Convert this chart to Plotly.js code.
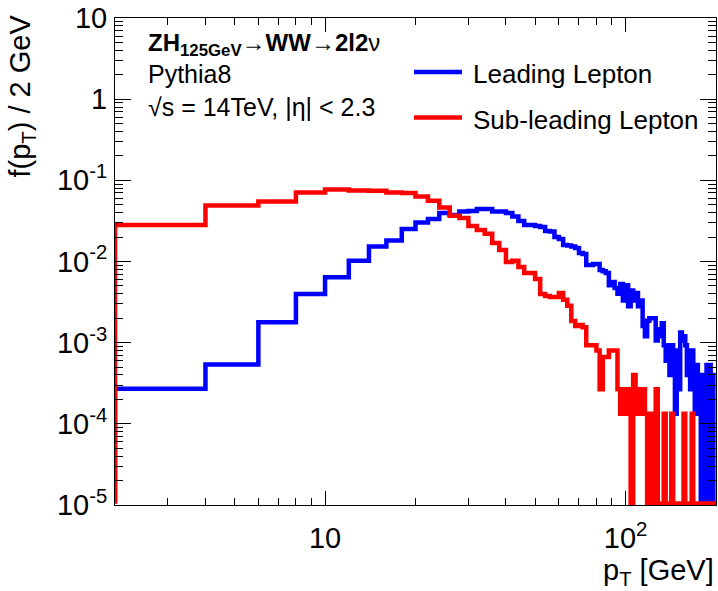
<!DOCTYPE html>
<html>
<head>
<meta charset="utf-8">
<script src="https://cdn.plot.ly/plotly-3.0.1.min.js"></script>
<style>html,body{margin:0;padding:0;background:#fff;}#chart{width:718px;height:591px;}</style>
</head>
<body>
<div id="chart"></div>
<script>
// 2 GeV bins, first visible bin starts at 2 GeV
const xMin = 2;
const binWidth = 2;

// Leading lepton f(pT) per 2 GeV bin ([2,4], [4,6], ... [198,200])
const leading = [
  0.00027,0.00054,0.00179,0.00399,0.0064,0.0102,0.0153,0.0182,0.0252,0.0303,
  0.0334,0.0396,0.0374,0.0413,0.0419,0.0444,0.0444,0.0413,0.0413,0.0396,
  0.0358,0.0316,0.0282,0.0282,0.0274,0.0266,0.0238,0.0235,0.0200,0.0189,
  0.0160,0.0158,0.0153,0.0147,0.0127,0.0124,0.00906,0.00906,0.0093,0.0093,
  0.00785,0.0076,0.0072,0.0051,0.0056,0.0047,0.0040,0.0053,0.0033,0.0051,
  0.0028,0.0044,0.0033,0.0041,0.0028,0.0033,0.0016,0.0012,0.00186,0.0020,
  0.0020,0.0020,0.00106,0.0012,0.00146,0.00173,0.00093,0.0006,0.00093,0.0004,
  0.00093,0.0008,0.000133,0.0008,0.000266,0.00133,0.00106,0.0012,0.00093,0.0004,
  0.0008,0.000266,0.0008,0.0004,0.000133,0.00053,0.000133,0.0004,0,0.000133,
  0.0004,0,0.00053,0.000266,0.00053,0,0.0004,0,0
];

// Sub-leading lepton f(pT) per 2 GeV bin
const subleading = [
  0.0282,0.0489,0.0547,0.0706,0.0773,0.0752,0.0746,0.0710,0.0700,0.0630,
  0.0562,0.0463,0.0365,0.0344,0.0274,0.0245,0.0219,0.0169,0.0139,0.00986,
  0.0102,0.00857,0.00723,0.00723,0.0061,0.00398,0.00377,0.00366,0.00366,0.0041,
  0.00337,0.00284,0.00185,0.00161,0.00165,0.00155,0.00093,0.00093,0.00093,0.0008,
  0.000266,0.000665,0.000665,0.0008,0.0008,0.0008,0.000266,0.000133,0.000266,0.000133,
  0.000266,0,0.000399,0.000133,0.000266,0.000133,0.000266,0.000133,0,0.000133,
  0,0.000133,0.000266,0,0,0,0.000133,0,0,0,
  0.000133,0,0,0,0,0,0,0.000133,0,0,
  0,0,0.000133,0,0,0,0,0,0,0,
  0,0,0,0,0,0,0,0,0
];

const seriesNames = ['Leading Lepton', 'Sub-leading Lepton'];
const seriesColors = ['#0000ff', '#ff0000'];

const xTickVals = [10, 100];
const xTickText = ['10', '10<sup>2</sup>'];
const yTickVals = [1e-5, 1e-4, 1e-3, 1e-2, 1e-1, 1, 10];
const yTickText = ['10<sup>-5</sup>','10<sup>-4</sup>','10<sup>-3</sup>','10<sup>-2</sup>','10<sup>-1</sup>','1','10'];

const yMinDecade = -5, yMaxDecade = 1;
// empty bins are drawn on the lower frame edge (as ROOT does)
const floorDraw = Math.pow(10, yMinDecade) * 1.04;

function stepTrace(vals, name, color) {
  const xs = [xMin], ys = [floorDraw];
  vals.forEach((v, i) => {
    xs.push(xMin + i * binWidth);
    ys.push(v > 0 ? v : floorDraw);
  });
  xs.push(xMin + vals.length * binWidth);
  ys.push(vals[vals.length - 1] > 0 ? vals[vals.length - 1] : floorDraw);
  return {
    x: xs, y: ys, type: 'scatter', mode: 'lines', name: name,
    line: {shape: 'hv', color: color, width: 4.5},
    hoverinfo: 'skip', showlegend: false
  };
}

const minorX = [3,4,5,6,7,8,9,20,30,40,50,60,70,80,90];
const minorY = [];
for (let d = yMinDecade; d < yMaxDecade; d++) {
  for (let m = 2; m <= 9; m++) minorY.push(m * Math.pow(10, d));
}

const FONT = 'Liberation Sans, Arial, Helvetica, sans-serif';

const data = [
  stepTrace(leading, seriesNames[0], seriesColors[0]),
  stepTrace(subleading, seriesNames[1], seriesColors[1])
];

const L = 115, R = 716, T = 18, B = 505, W = 718, H = 591;
const px = v => (v - L) / (R - L);
const py = v => 1 - (v - T) / (B - T);

const layout = {
  width: W, height: H,
  margin: {l: L, r: W - R, t: T, b: H - B, pad: 0},
  paper_bgcolor: '#fff', plot_bgcolor: '#fff',
  font: {family: FONT, color: '#000'},
  xaxis: {
    type: 'log', range: [Math.log10(xMin), Math.log10(200)],
    tickmode: 'array', tickvals: xTickVals, ticktext: xTickText,
    ticks: 'inside', ticklen: 14, tickwidth: 1, tickcolor: '#000',
    showline: true, linecolor: '#000', linewidth: 1, mirror: 'ticks',
    showgrid: false, zeroline: false, ticklabelstandoff: 7,
    tickfont: {family: FONT, size: 29, color: '#000'},
    minor: {tickmode: 'array', tickvals: minorX, ticks: 'inside', ticklen: 7, tickwidth: 1, tickcolor: '#000', showgrid: false}
  },
  yaxis: {
    type: 'log', range: [yMinDecade, yMaxDecade],
    tickmode: 'array', tickvals: yTickVals, ticktext: yTickText,
    ticks: 'inside', ticklen: 16, tickwidth: 1, tickcolor: '#000',
    showline: true, linecolor: '#000', linewidth: 1, mirror: 'ticks',
    showgrid: false, zeroline: false, ticklabelstandoff: 1,
    tickfont: {family: FONT, size: 29, color: '#000'},
    minor: {tickmode: 'array', tickvals: minorY, ticks: 'inside', ticklen: 8, tickwidth: 1, tickcolor: '#000', showgrid: false}
  },
  shapes: [
    {type: 'line', xref: 'paper', yref: 'paper', x0: px(414), x1: px(462), y0: py(72), y1: py(72), line: {color: seriesColors[0], width: 4.5}},
    {type: 'line', xref: 'paper', yref: 'paper', x0: px(414), x1: px(462), y0: py(117.5), y1: py(117.5), line: {color: seriesColors[1], width: 4.5}}
  ],
  annotations: [
    {xref: 'paper', yref: 'paper', x: px(471), y: py(74), xanchor: 'left', yanchor: 'middle', showarrow: false,
     text: seriesNames[0], font: {family: FONT, size: 26, color: '#000'}},
    {xref: 'paper', yref: 'paper', x: px(471), y: py(119.5), xanchor: 'left', yanchor: 'middle', showarrow: false,
     text: seriesNames[1], font: {family: FONT, size: 26, color: '#000'}},
    {xref: 'paper', yref: 'paper', x: px(146), y: py(44), xanchor: 'left', yanchor: 'middle', showarrow: false,
     text: '<b>ZH<sub>125GeV</sub>→WW→2l2</b>ν', font: {family: FONT, size: 24, color: '#000'}},
    {xref: 'paper', yref: 'paper', x: px(146), y: py(74), xanchor: 'left', yanchor: 'middle', showarrow: false,
     text: 'Pythia8', font: {family: FONT, size: 25, color: '#000'}},
    {xref: 'paper', yref: 'paper', x: px(146), y: py(107), xanchor: 'left', yanchor: 'middle', showarrow: false,
     text: '√s = 14TeV, |η| < 2.3', font: {family: FONT, size: 25, color: '#000'}},
    {xref: 'paper', yref: 'paper', x: 1, y: py(572), xanchor: 'right', yanchor: 'middle', showarrow: false,
     text: 'p<sub>T</sub> [GeV]', font: {family: FONT, size: 29, color: '#000'}},
    {xref: 'paper', yref: 'paper', x: px(22), y: py(13), xanchor: 'center', yanchor: 'top', showarrow: false, textangle: -90,
     text: 'f(p<sub>T</sub>) / 2 GeV', font: {family: FONT, size: 29, color: '#000'}}
  ]
};

Plotly.newPlot('chart', data, layout, {displayModeBar: false, staticPlot: true});
</script>
</body>
</html>
